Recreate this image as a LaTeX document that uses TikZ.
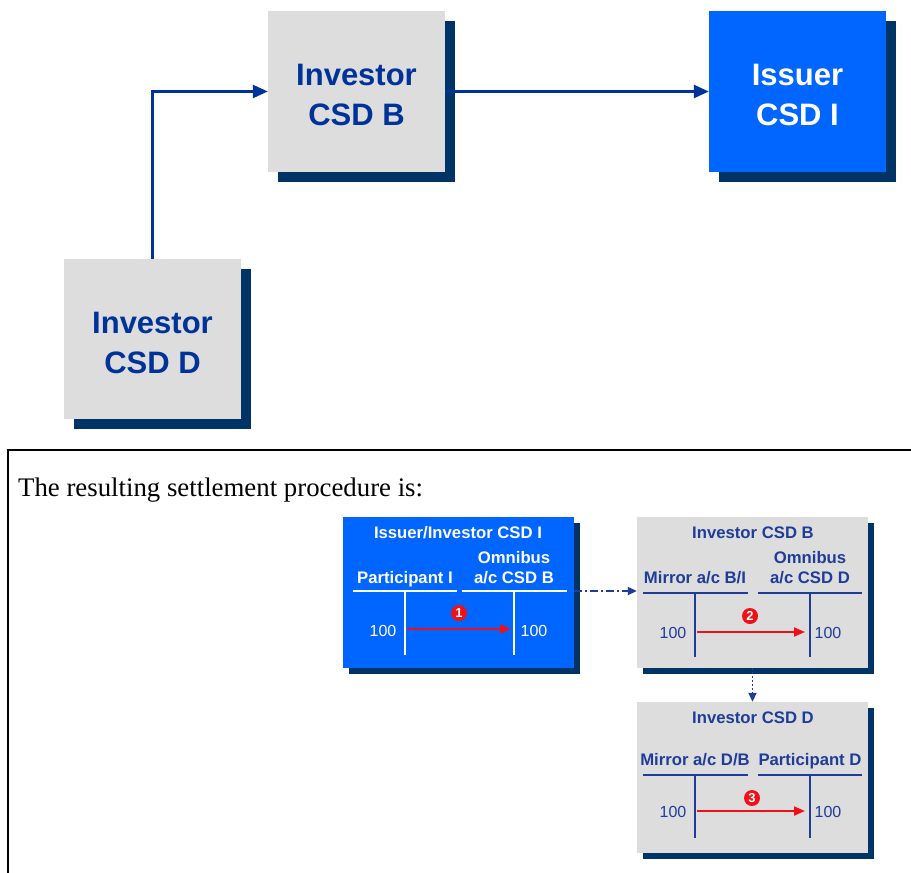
\documentclass[tikz,border=0pt]{standalone}
\usepackage{fontspec}
\setmainfont{Liberation Serif}
\newfontfamily\arialf{Liberation Sans}
\usetikzlibrary{arrows.meta,shadows}
\definecolor{navy}{HTML}{003366}
\definecolor{dblue}{HTML}{003399}
\definecolor{bblue}{HTML}{0066FF}
\definecolor{lgray}{HTML}{DDDDDD}
\definecolor{tblue}{HTML}{1F3C99}
\definecolor{rred}{HTML}{F01018}
\begin{document}
\begin{tikzpicture}[x=1pt,y=-1pt,
  bigbox/.style={rectangle, minimum width=177pt, minimum height=161pt, inner sep=0pt,
    drop shadow={shadow xshift=10pt,shadow yshift=-10pt,fill=navy,opacity=1}},
  bigtext/.style={align=center, inner sep=0pt, font=\arialf\bfseries\fontsize{31}{40}\selectfont},
  acct/.style={rectangle, minimum width=231pt, minimum height=151pt, inner sep=0pt,
    drop shadow={shadow xshift=6pt,shadow yshift=-6pt,fill=navy,opacity=1}},
  conn/.style={draw=dblue, line width=2.4pt, -{Triangle[length=15pt,width=13pt]}},
  lbl/.style={anchor=base, inner sep=0pt, font=\arialf\bfseries\fontsize{16.7}{20}\selectfont},
  amt/.style={anchor=base, inner sep=0pt, font=\arialf\fontsize{16}{19}\selectfont},
  numc/.style={circle, fill=rred, text=white, inner sep=0pt, minimum size=16pt,
    font=\arialf\bfseries\fontsize{13}{13}\selectfont},
  redarr/.style={draw=rred, line width=2pt, -{Triangle[length=11pt,width=9pt]}},
  tline/.style={line width=1.5pt},
  link/.style={draw=tblue, line width=1.8pt, -{Triangle[length=9pt,width=8pt]}}
]
\useasboundingbox (0,0) rectangle (911,873);
\fill[white] (0,0) rectangle (911,873);

% ---------- top diagram ----------
\node[bigbox, fill=lgray] (csdB) at (356.5,91.5) {};
\node[bigbox, fill=bblue] (csdI) at (797.5,91.5) {};
\node[bigbox, fill=lgray, minimum height=160pt] (csdD) at (152.5,339) {};
\node[bigtext, text=dblue] (csdBt) at (356.5,94.5) {Investor\\CSD B};
\node[bigtext, text=white] (csdIt) at (797.5,94.5) {Issuer\\CSD I};
\node[bigtext, text=dblue] (csdDt) at (152.5,342.5) {Investor\\CSD D};
\draw[conn] (csdB.east) -- (csdI.west);
\draw[conn] (csdD.north) |- (csdB.west);

% ---------- frame ----------
\draw[line width=2.4pt] (8,873) -- (8,450) -- (911,450);
\node[anchor=base west, inner sep=0pt, font=\fontsize{26.8}{30}\selectfont] (intro) at (18,496)
  {The resulting settlement procedure is:};

% ---------- account boxes ----------
\node[acct, fill=bblue] (accI) at (458.5,592.5) {};
\node[acct, fill=lgray] (accB) at (752.5,592.5) {};
\node[acct, fill=lgray] (accD) at (752.5,777.5) {};

\draw[link, dash pattern=on 8pt off 3pt on 2pt off 3pt] (accI.east |- 0,591) -- (accB.west |- 0,591);
\draw[link, dash pattern=on 2pt off 2pt] (accB.south) -- (accD.north);

% box 1: Issuer/Investor CSD I
\node[lbl, text=white] (t1) at (458,538) {Issuer/Investor CSD I};
\node[lbl, text=white] (h1a) at (405,583) {Participant I};
\node[lbl, text=white] (h1b) at (514,563) {Omnibus};
\node[lbl, text=white] (h1c) at (514,583) {a/c CSD B};
\draw[tline, white] (353,591) -- (457,591) (462,591) -- (567,591);
\draw[tline, white] (405,591) -- (405,655) (514,591) -- (514,655);
\node[amt, text=white] (v1a) at (383,636) {100};
\node[amt, text=white] (v1b) at (534,636) {100};
\coordinate (a1s) at (407,629);
\coordinate (a1e) at (511,629);
\draw[redarr] (a1s) -- (a1e);
\node[numc] (n1) at (459,613) {1};

% box 2: Investor CSD B
\node[lbl, text=tblue] (t2) at (753,538) {Investor CSD B};
\node[lbl, text=tblue] (h2a) at (695,583) {Mirror a/c B/I};
\node[lbl, text=tblue] (h2b) at (810,563) {Omnibus};
\node[lbl, text=tblue] (h2c) at (810,583) {a/c CSD D};
\draw[tline, tblue] (643,593) -- (748,593) (758,593) -- (862,593);
\draw[tline, tblue] (695,593) -- (695,657) (810,593) -- (810,657);
\node[amt, text=tblue] (v2a) at (673,638) {100};
\node[amt, text=tblue] (v2b) at (828,638) {100};
\coordinate (a2s) at (697,632);
\coordinate (a2e) at (805,632);
\draw[redarr] (a2s) -- (a2e);
\node[numc] (n2) at (750,616) {2};

% box 3: Investor CSD D
\node[lbl, text=tblue] (t3) at (753,723) {Investor CSD D};
\node[lbl, text=tblue] (h3a) at (695,765) {Mirror a/c D/B};
\node[lbl, text=tblue] (h3b) at (810,765) {Participant D};
\draw[tline, tblue] (643,775) -- (748,775) (758,775) -- (862,775);
\draw[tline, tblue] (695,775) -- (695,838) (810,775) -- (810,838);
\node[amt, text=tblue] (v3a) at (673,817) {100};
\node[amt, text=tblue] (v3b) at (828,817) {100};
\coordinate (a3s) at (697,811);
\coordinate (a3e) at (805,811);
\draw[redarr] (a3s) -- (a3e);
\node[numc] (n3) at (752,798) {3};
\end{tikzpicture}
\end{document}
